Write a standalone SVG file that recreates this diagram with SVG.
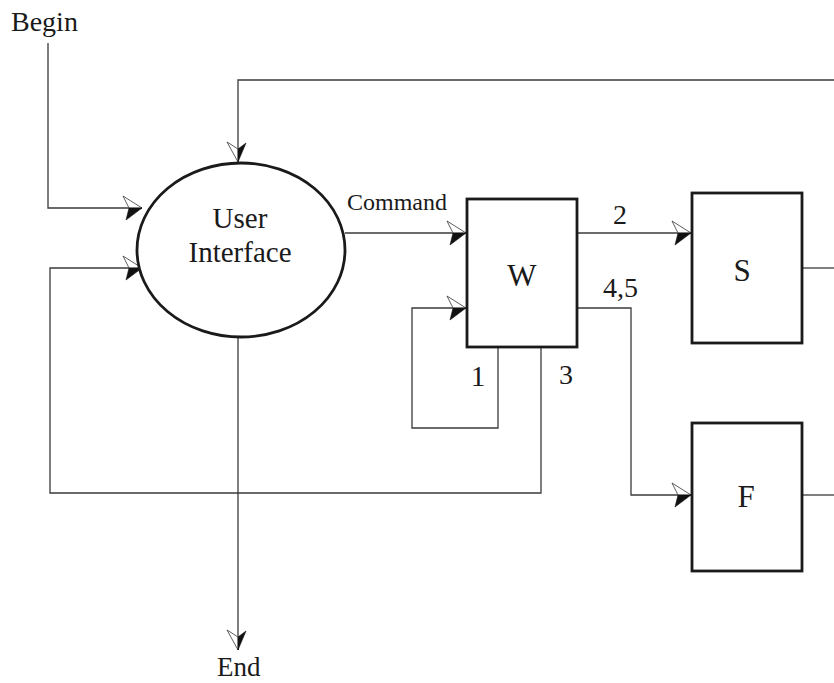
<svg xmlns="http://www.w3.org/2000/svg" width="834" height="683" viewBox="0 0 834 683">
  <style>
    .node { fill: #fff; stroke: #1a1a1a; stroke-width: 2.8; }
    .wire { fill: none; stroke: #3a3a3a; stroke-width: 1.3; }
    .lbl { font-family: "Liberation Serif", "Times New Roman", serif; fill: #1a1a1a; }
  </style>
  <defs>
    <!-- half-filled arrowhead, dark half below the shaft -->
    <marker id="arrR" markerUnits="userSpaceOnUse" orient="auto" viewBox="-22 -14 24 28" markerWidth="24" markerHeight="28" refX="0" refY="0">
      <path d="M0,0 L-19,-12 L-13,0 Z" fill="#fff" stroke="#333" stroke-width="0.8"/>
      <path d="M0,0 L-16,12 L-13,0 Z" fill="#111" stroke="#111" stroke-width="0.6"/>
    </marker>
    <!-- mirrored variant used on the vertical shafts -->
    <marker id="arrD" markerUnits="userSpaceOnUse" orient="auto" viewBox="-22 -14 24 28" markerWidth="24" markerHeight="28" refX="0" refY="0">
      <path d="M0,0 L-20,11 L-13,0 Z" fill="#fff" stroke="#333" stroke-width="0.8"/>
      <path d="M0,0 L-19,-8 L-13,0 Z" fill="#111" stroke="#111" stroke-width="0.6"/>
    </marker>
  </defs>

  <g id="connectors">
    <!-- Begin -> UI -->
    <path class="wire" d="M48,43 V208 H142" marker-end="url(#arrR)"/>
    <!-- feedback from S/F along the top -->
    <path class="wire" d="M834,80 H238 V162" marker-end="url(#arrD)"/>
    <!-- output 3 back to UI -->
    <path class="wire" d="M541,347 V493 H50 V268 H142" marker-end="url(#arrR)"/>
    <!-- UI -> W (Command) -->
    <path class="wire" d="M345,233 H466" marker-end="url(#arrR)"/>
    <!-- self loop 1 -->
    <path class="wire" d="M498,347 V428 H412 V308 H466" marker-end="url(#arrR)"/>
    <!-- W -> S (2) -->
    <path class="wire" d="M577,233 H691" marker-end="url(#arrR)"/>
    <!-- W -> F (4,5) -->
    <path class="wire" d="M577,308 H631 V495 H691" marker-end="url(#arrR)"/>
    <!-- S and F outputs -->
    <path class="wire" d="M802,268 H834"/>
    <path class="wire" d="M802,495 H834"/>
    <!-- UI -> End -->
    <path class="wire" d="M238,337 V650" marker-end="url(#arrD)"/>
  </g>

  <g id="begin">
    <text class="lbl" x="11" y="31" font-size="28">Begin</text>
  </g>

  <g id="user-interface">
    <ellipse class="node" cx="241" cy="250" rx="104" ry="87"/>
    <text class="lbl" x="240" y="228" font-size="29" text-anchor="middle">User</text>
    <text class="lbl" x="240" y="262" font-size="29" text-anchor="middle">Interface</text>
  </g>

  <g id="w">
    <rect class="node" x="467" y="199" width="110" height="148"/>
    <text class="lbl" x="522" y="286" font-size="31" text-anchor="middle">W</text>
  </g>

  <g id="s">
    <rect class="node" x="692" y="193" width="110" height="150"/>
    <text class="lbl" x="742" y="281" font-size="31" text-anchor="middle">S</text>
  </g>

  <g id="f">
    <rect class="node" x="692" y="423" width="110" height="148"/>
    <text class="lbl" x="746" y="507" font-size="31" text-anchor="middle">F</text>
  </g>

  <g id="end">
    <text class="lbl" x="217" y="676" font-size="27">End</text>
  </g>

  <g id="labels">
    <text class="lbl" x="347" y="210" font-size="24">Command</text>
    <text class="lbl" x="620" y="224" font-size="28" text-anchor="middle">2</text>
    <text class="lbl" x="603" y="297" font-size="28">4,5</text>
    <text class="lbl" x="478" y="386" font-size="29" text-anchor="middle">1</text>
    <text class="lbl" x="566" y="384" font-size="28" text-anchor="middle">3</text>
  </g>
</svg>
